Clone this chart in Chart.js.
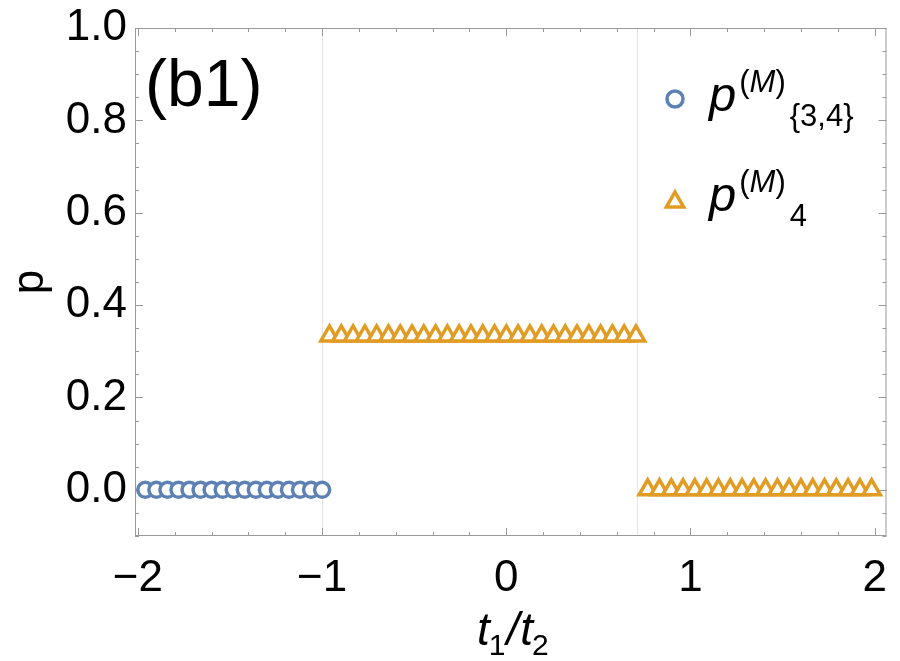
<!DOCTYPE html>
<html lang="en">
<head>
    <meta charset="UTF-8">
    <title>p vs t1/t2 (b1)</title>
    <script src="https://cdn.jsdelivr.net/npm/chart.js@4.4.1/dist/chart.umd.min.js"></script>
    <style>
        html, body { margin: 0; padding: 0; background: #fff; }
        #wrap { width: 900px; height: 661px; position: relative; }
    </style>
</head>
<body>
    <div id="wrap"><canvas id="chart"></canvas></div>

    <script>
        // p^(M)_{3,4}: circles on the left branch
        const circleX = [-1.96, -1.90, -1.84, -1.78, -1.72, -1.66, -1.60, -1.54, -1.48,
                         -1.42, -1.36, -1.30, -1.24, -1.18, -1.12, -1.06, -1.00];
        const circleY = [0, 0, 0, 0, 0, 0, 0, 0, 0, 0, 0, 0, 0, 0, 0, 0, 0];

        // p^(M)_4: triangles, plateau at 1/3 then zero
        const triangleX = [-0.960, -0.896, -0.832, -0.768, -0.704, -0.640, -0.576, -0.512, -0.448,
                           -0.384, -0.320, -0.256, -0.192, -0.128, -0.064, 0.000, 0.064, 0.128,
                           0.192, 0.256, 0.320, 0.384, 0.448, 0.512, 0.576, 0.640, 0.704,
                           0.768, 0.832, 0.896, 0.960, 1.024, 1.088, 1.152, 1.216, 1.280,
                           1.344, 1.408, 1.472, 1.536, 1.600, 1.664, 1.728, 1.792, 1.856,
                           1.920, 1.984];
        const triangleY = [0.3333, 0.3333, 0.3333, 0.3333, 0.3333, 0.3333, 0.3333, 0.3333, 0.3333,
                           0.3333, 0.3333, 0.3333, 0.3333, 0.3333, 0.3333, 0.3333, 0.3333, 0.3333,
                           0.3333, 0.3333, 0.3333, 0.3333, 0.3333, 0.3333, 0.3333, 0.3333, 0.3333,
                           0, 0, 0, 0, 0, 0, 0, 0, 0,
                           0, 0, 0, 0, 0, 0, 0, 0, 0,
                           0, 0];

        const xTicks = [-2, -1, 0, 1, 2];
        const yTicks = [0, 0.2, 0.4, 0.6, 0.8, 1.0];
        const guideX = [-1, 0.7071];   // thin vertical lines at the transitions

        const blue = '#5E81B5';
        const orange = '#E19C24';
        const frameGray = '#9a9a9a';
        const FONT = '"Liberation Sans", Arial, sans-serif';

        const toPoints = (xs, ys) => xs.map((x, i) => ({ x: x, y: ys[i] }));

        function drawParts(ctx, x, parts) {
            parts.forEach(p => {
                ctx.font = p.font;
                ctx.fillText(p.text, x + (p.dx || 0), p.y);
                x += (p.dx || 0) + ctx.measureText(p.text).width;
            });
            return x;
        }

        const framePlugin = {
            id: 'frame',
            beforeDatasetsDraw(chart) {
                const { ctx, chartArea: a, scales: { x, y } } = chart;
                ctx.save();
                ctx.lineWidth = 1;

                ctx.strokeStyle = '#e4e4e4';
                guideX.forEach(v => {
                    const px = Math.round(x.getPixelForValue(v)) + 0.5;
                    ctx.beginPath();
                    ctx.moveTo(px, a.top);
                    ctx.lineTo(px, a.bottom);
                    ctx.stroke();
                });

                ctx.strokeStyle = frameGray;
                ctx.strokeRect(a.left + 0.5, a.top + 0.5, a.width - 1, a.height - 1);

                // ticks on all four sides, pointing inward
                ctx.beginPath();
                for (let k = -10; k <= 10; k++) {
                    const v = k * 0.2;
                    if (v < x.min || v > x.max) continue;
                    const len = (k % 5 === 0) ? 8 : 4;
                    const px = Math.round(x.getPixelForValue(v)) + 0.5;
                    ctx.moveTo(px, a.bottom); ctx.lineTo(px, a.bottom - len);
                    ctx.moveTo(px, a.top); ctx.lineTo(px, a.top + len);
                }
                for (let k = -2; k <= 20; k++) {
                    const v = k * 0.05;
                    if (v < y.min - 1e-9 || v > y.max + 1e-9) continue;
                    const len = (k % 4 === 0) ? 8 : 4;
                    const py = Math.round(y.getPixelForValue(v)) + 0.5;
                    ctx.moveTo(a.left, py); ctx.lineTo(a.left + len, py);
                    ctx.moveTo(a.right, py); ctx.lineTo(a.right - len, py);
                }
                ctx.stroke();
                ctx.restore();
            },
            afterDraw(chart) {
                const { ctx } = chart;
                ctx.save();
                ctx.fillStyle = '#000';
                ctx.textBaseline = 'alphabetic';
                ctx.textAlign = 'left';

                // panel tag
                ctx.font = '66px ' + FONT;
                ctx.fillText('(b1)', 145, 106);

                // legend
                const it = 'italic 49px ' + FONT;
                const sup = '31px ' + FONT;
                const supIt = 'italic 31px ' + FONT;
                const sub = '31px ' + FONT;

                ctx.lineWidth = 3.5;
                ctx.strokeStyle = blue; ctx.fillStyle = '#fff';
                Chart.helpers.drawPoint(ctx, { pointStyle: 'circle', radius: 8, rotation: 0, borderWidth: 3.5 }, 675, 99);
                ctx.strokeStyle = orange;
                Chart.helpers.drawPoint(ctx, { pointStyle: 'triangle', radius: 10, rotation: 0, borderWidth: 3.5 }, 675, 202);

                ctx.fillStyle = '#000';
                [[111, '{3,4}'], [211, '4']].forEach(row => {
                    const base = row[0];
                    drawParts(ctx, 709, [
                        { text: 'p', font: it, y: base },
                        { text: '(', font: sup, y: base - 19, dx: 3 },
                        { text: 'M', font: supIt, y: base - 19 },
                        { text: ')', font: sup, y: base - 19 },
                        { text: row[1], font: sub, y: base + 15, dx: 4 }
                    ]);
                });

                // x axis title t1/t2
                const tIt = 'italic 46px ' + FONT;
                const tSub = '30px ' + FONT;
                drawParts(ctx, 477, [
                    { text: 't', font: tIt, y: 645 },
                    { text: '1', font: tSub, y: 655, dx: -1 },
                    { text: '/', font: tIt, y: 645, dx: 1 },
                    { text: 't', font: tIt, y: 645, dx: 1 },
                    { text: '2', font: tSub, y: 655, dx: -1 }
                ]);
                ctx.restore();
            }
        };

        new Chart(document.getElementById('chart'), {
            type: 'scatter',
            data: {
                datasets: [
                    {
                        label: 'p(M){3,4}',
                        data: toPoints(circleX, circleY),
                        pointStyle: 'circle',
                        pointRadius: 7.5,
                        pointHoverRadius: 7.5,
                        borderWidth: 3.5,
                        borderColor: blue,
                        backgroundColor: '#fff'
                    },
                    {
                        label: 'p(M)4',
                        data: toPoints(triangleX, triangleY),
                        pointStyle: 'triangle',
                        pointRadius: 10,
                        pointHoverRadius: 10,
                        borderWidth: 3.5,
                        borderColor: orange,
                        backgroundColor: '#fff'
                    }
                ]
            },
            options: {
                responsive: true,
                maintainAspectRatio: false,
                animation: false,
                events: [],
                layout: { padding: { top: 28, right: 5, left: 0, bottom: 0 } },
                plugins: {
                    legend: { display: false },
                    tooltip: { enabled: false }
                },
                scales: {
                    x: {
                        type: 'linear',
                        min: -2.016,
                        max: 2.0645,
                        grid: { display: false, drawTicks: false },
                        border: { display: false },
                        afterBuildTicks: s => { s.ticks = xTicks.map(v => ({ value: v })); },
                        afterFit: s => {
                            s.height = 125;
                            s.paddingLeft = 0; s.paddingRight = 0;
                        },
                        ticks: {
                            padding: 16,
                            color: '#000',
                            font: { family: FONT, size: 44 },
                            maxRotation: 0,
                            callback: v => (v < 0 ? '\u2212' + Math.abs(v) : String(v))
                        }
                    },
                    y: {
                        type: 'linear',
                        min: -0.1,
                        max: 1.0,
                        grid: { display: false, drawTicks: false },
                        border: { display: false },
                        afterBuildTicks: s => { s.ticks = yTicks.map(v => ({ value: v })); },
                        afterFit: s => {
                            s.width = 135;
                            s.paddingTop = 0; s.paddingBottom = 0;
                        },
                        title: {
                            display: true,
                            text: 'p',
                            color: '#000',
                            font: { family: FONT, size: 44 },
                            padding: { top: 4, bottom: 0 }
                        },
                        ticks: {
                            padding: 8,
                            color: '#000',
                            font: { family: FONT, size: 44 },
                            callback: v => v.toFixed(1)
                        }
                    }
                }
            },
            plugins: [framePlugin]
        });
    </script>
</body>
</html>
